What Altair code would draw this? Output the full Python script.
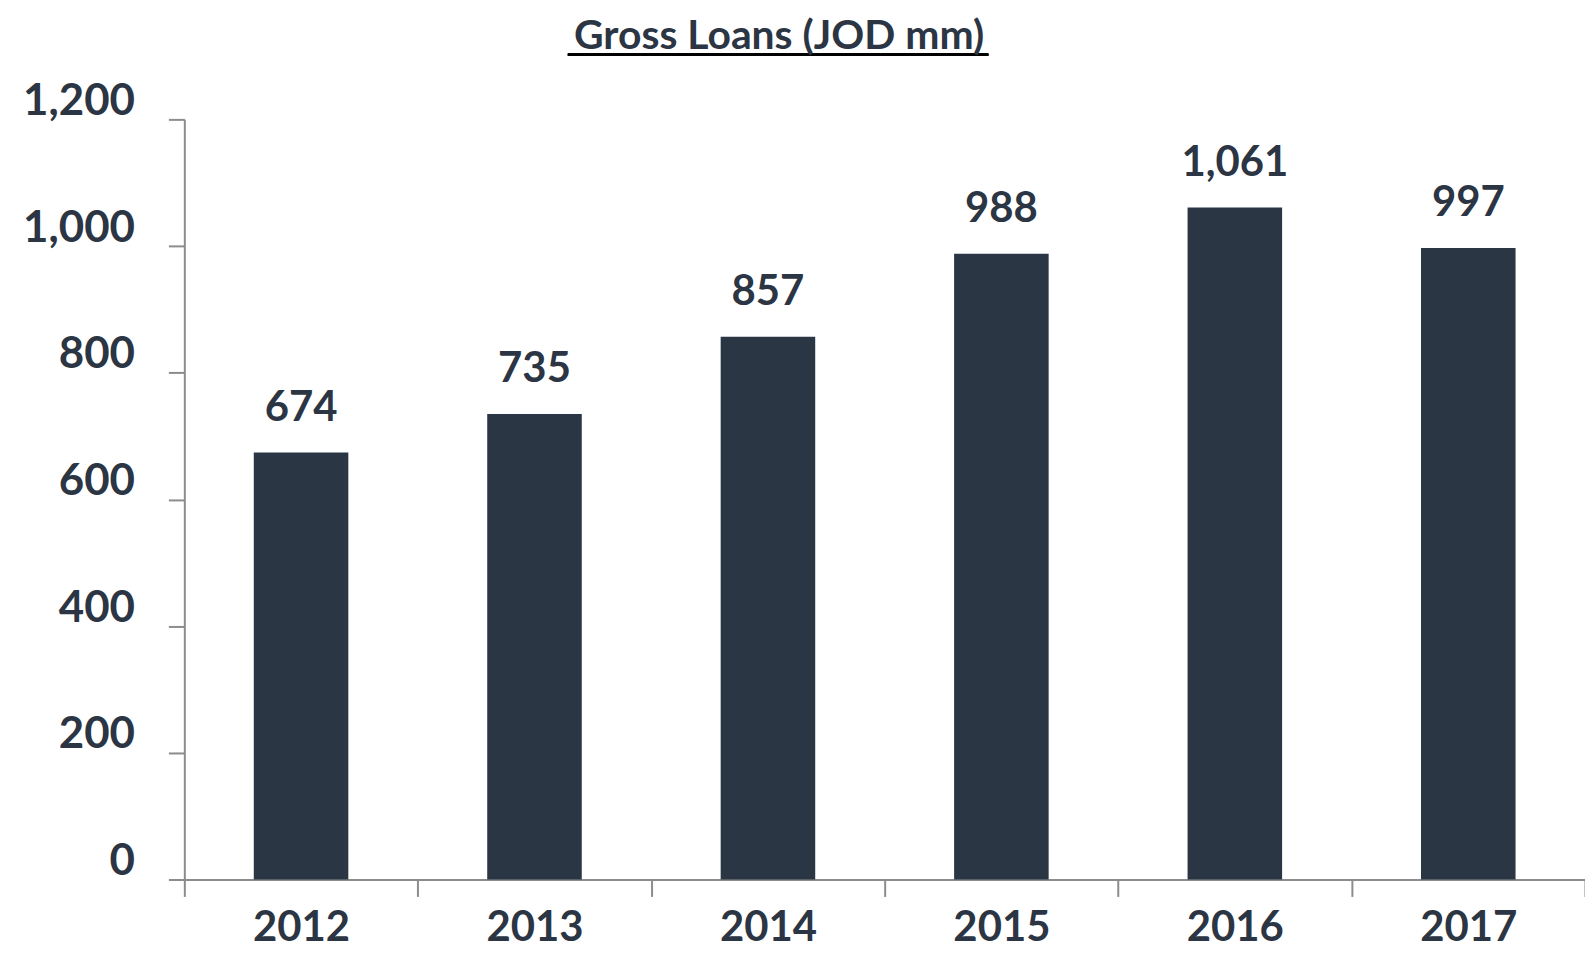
import altair as alt
import pandas as pd

years = ["2012", "2013", "2014", "2015", "2016", "2017"]
loans = [674, 735, 857, 988, 1061, 997]

df = pd.DataFrame({"year": years, "loans": loans})

TXT = "#2b3543"
BAR = "#2b3644"
AX = "#8c8c8c"
FONT = "Lato"

x = alt.X("year:N", sort=years, title=None,
          scale=alt.Scale(paddingInner=0, paddingOuter=0),
          axis=alt.Axis(labelAngle=0, labelFont=FONT, labelFontSize=42, labelFontWeight="bold",
                        labelColor=TXT, labelPadding=11, tickBand="extent", tickSize=17,
                        tickColor=AX, tickWidth=2, domainColor=AX, domainWidth=2))
y = alt.Y("loans:Q", title=None,
          scale=alt.Scale(domain=[0, 1200], nice=False),
          axis=alt.Axis(values=[0, 200, 400, 600, 800, 1000, 1200], format=",.0f", grid=False,
                        labelFont=FONT, labelFontSize=44, labelFontWeight="bold", labelColor=TXT,
                        labelPadding=34, labelOffset=-18, tickSize=16, tickColor=AX, tickWidth=2,
                        domainColor=AX, domainWidth=2))

bars = alt.Chart(df).mark_bar(color=BAR, width=alt.RelativeBandSize(0.405)).encode(x=x, y=y)

labels = alt.Chart(df).mark_text(font=FONT, fontSize=42, fontWeight="bold", color=TXT,
                                 baseline="alphabetic", dy=-32).encode(
    x=alt.X("year:N", sort=years), y="loans:Q", text=alt.Text("loans:Q", format=","))

underline = alt.Chart(df).mark_rule(color="black", strokeWidth=2.5).encode(
    x=alt.value(385), x2=alt.value(807), y=alt.value(-65))

chart = alt.layer(bars, labels, underline).properties(
    width=1406, height=763,
    autosize=alt.AutoSizeParams(type="none"),
    padding={"left": 177, "top": 110, "right": 0, "bottom": 72},
    title=alt.TitleParams("Gross Loans (JOD mm)", font=FONT, fontSize=41, fontWeight="bold",
                          color=TXT, dx=-106, offset=-5, anchor="middle"),
).configure_view(stroke=None)

chart.save("out.html", embed_options={"renderer": "svg", "actions": False})
